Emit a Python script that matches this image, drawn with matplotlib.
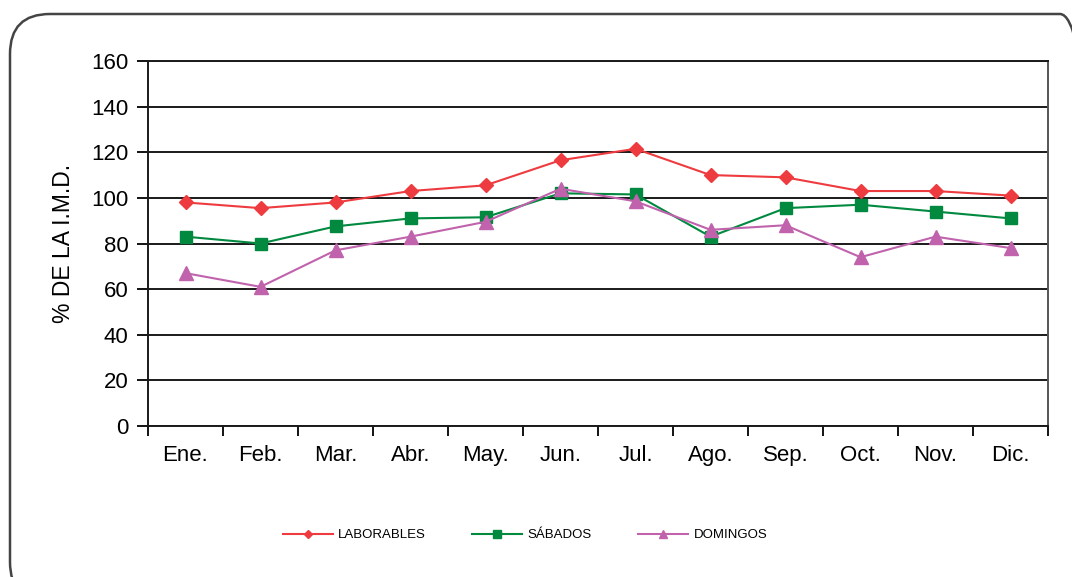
import matplotlib
matplotlib.use("Agg")
from matplotlib import pyplot as plt
from matplotlib.patches import FancyBboxPatch
from matplotlib.transforms import IdentityTransform
import numpy as np

plt.rcParams['font.family'] = ['Liberation Sans', 'DejaVu Sans']

meses = ["Ene.", "Feb.", "Mar.", "Abr.", "May.", "Jun.",
         "Jul.", "Ago.", "Sep.", "Oct.", "Nov.", "Dic."]
laborables = [98, 95.5, 98, 103, 105.5, 116.5, 121.5, 110, 109, 103, 103, 101]
sabados = [83, 80, 87.5, 91, 91.5, 102, 101.5, 83, 95.5, 97, 94, 91]
domingos = [67, 61, 77, 83, 89.5, 104, 98.5, 86, 88, 74, 83, 78]

W, H = 1072, 577
fig = plt.figure(figsize=(W / 100, H / 100), dpi=100)

# marco redondeado en pixeles (se sale por abajo y por la derecha)
marco = FancyBboxPatch((10, -25), 1090, H - 14 + 25,
                       boxstyle="round,pad=0,rounding_size=40",
                       transform=IdentityTransform(), facecolor='none',
                       edgecolor='#444444', linewidth=1.8, zorder=-1)
fig.patches.append(marco)

ax = fig.add_axes([148 / W, 1 - 426 / H, 900 / W, 365 / H])
ax.patch.set_alpha(0)
x = np.arange(len(meses))

ax.plot(x, laborables, color='#ee3b3f', marker='D', markersize=7.5,
        linewidth=1.5, label='LABORABLES')
ax.plot(x, sabados, color='#00893f', marker='s', markersize=9,
        linewidth=1.5, label='SÁBADOS')
ax.plot(x, domingos, color='#c062ac', marker='^', markersize=9.5,
        linewidth=1.5, label='DOMINGOS')

ax.set_xlim(-0.5, len(meses) - 0.5)
ax.set_ylim(0, 160)
ax.set_yticks(np.arange(0, 161, 20))
ax.yaxis.grid(True, color='#1a1a1a', linewidth=1.4)
ax.set_axisbelow(True)

ax.set_xticks(x)
ax.set_xticklabels(meses)
ax.set_xticks(np.arange(-0.5, len(meses), 1), minor=True)
ax.tick_params(axis='x', which='major', length=0, pad=14, labelsize=16)
ax.tick_params(axis='x', which='minor', length=7, direction='out', width=1.3)
ax.tick_params(axis='y', length=8, width=1.3, labelsize=16, pad=6)

for s in ax.spines.values():
    s.set_color('#1a1a1a')
    s.set_linewidth(1.4)
ax.spines['right'].set_color('#555555')

ax.set_ylabel('% DE LA I.M.D.', fontsize=16.5, labelpad=12)

ax.legend(loc='center', bbox_to_anchor=(525 / W, 1 - 535 / H),
          bbox_transform=fig.transFigure, ncol=3, frameon=False,
          fontsize=9.5, handlelength=3.8, handletextpad=0.4,
          columnspacing=3.5, markerscale=0.6)

fig.savefig("out.png", dpi=100)
